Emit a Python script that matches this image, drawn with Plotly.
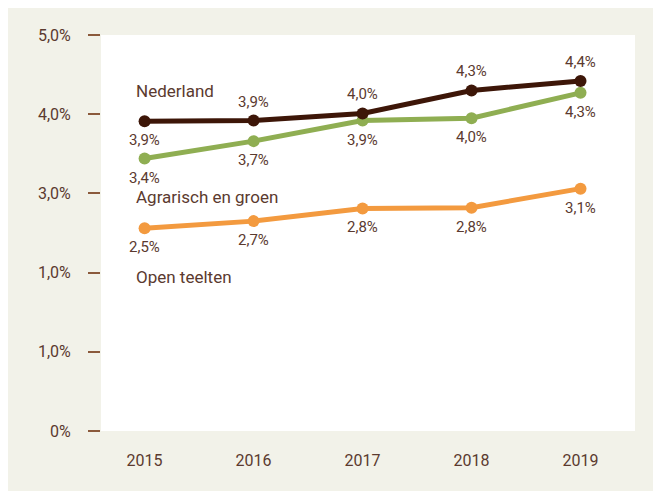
import plotly.graph_objects as go

years = [2015, 2016, 2017, 2018, 2019]
nederland = [3.91, 3.92, 4.01, 4.30, 4.42]
agrarisch = [3.44, 3.66, 3.92, 3.95, 4.27]
open_teelten = [2.56, 2.65, 2.81, 2.82, 3.06]

nederland_labels = ["3,9%", "3,9%", "4,0%", "4,3%", "4,4%"]
agrarisch_labels = ["3,4%", "3,7%", "3,9%", "4,0%", "4,3%"]
open_labels = ["2,5%", "2,7%", "2,8%", "2,8%", "3,1%"]

# +1 = label above the point, -1 = below
nederland_side = [-1, 1, 1, 1, 1]
agrarisch_side = [-1, -1, -1, -1, -1]
open_side = [-1, -1, -1, -1, -1]

ytick_vals = [0, 1, 2, 3, 4, 5]
ytick_text = ["0%", "1,0%", "1,0%", "3,0%", "4,0%", "5,0%"]

series_names = ["Nederland", "Agrarisch en groen", "Open teelten"]
series_name_y = [4.29, 2.95, 1.95]

FONT = "Roboto"
TXT = "#5b3a2f"
C_NL = "#3d1608"
C_AG = "#8fae52"
C_OT = "#f39a3f"

fig = go.Figure()

def add(vals, labels, sides, color):
    fig.add_trace(go.Scatter(
        x=years, y=vals, mode="lines+markers",
        line=dict(color=color, width=5),
        marker=dict(color=color, size=12),
        cliponaxis=False, showlegend=False, hoverinfo="skip",
    ))
    for x, y, t, s in zip(years, vals, labels, sides):
        fig.add_annotation(x=x, y=y, text=t, showarrow=False,
                           xanchor="center", yanchor="middle",
                           yshift=19 * s,
                           font=dict(family=FONT, size=15, color=TXT))

add(open_teelten, open_labels, open_side, C_OT)
add(agrarisch, agrarisch_labels, agrarisch_side, C_AG)
add(nederland, nederland_labels, nederland_side, C_NL)

for name, yv in zip(series_names, series_name_y):
    fig.add_annotation(x=2014.9, y=yv, text=name, showarrow=False,
                       xanchor="left", yanchor="middle",
                       font=dict(family=FONT, size=17, color=TXT))

fig.update_layout(
    width=661, height=491,
    margin=dict(l=93, r=34, t=27, b=68),
    paper_bgcolor="#f2f2e9", plot_bgcolor="white",
    font=dict(family=FONT, color=TXT),
    xaxis=dict(range=[2014.6, 2019.5], tickvals=years, ticktext=[str(y) for y in years],
               showgrid=False, zeroline=False, showline=False, ticks="",
               tickfont=dict(size=16, color=TXT), ticklabelstandoff=18, fixedrange=True),
    yaxis=dict(range=[0, 5], tickvals=ytick_vals, ticktext=ytick_text,
               showgrid=False, zeroline=False, showline=False,
               ticks="outside", ticklen=12, tickwidth=1.5, tickcolor="#8b5a3c",
               tickfont=dict(size=16, color=TXT), ticklabelstandoff=14, fixedrange=True),
)

fig.write_html("out.html")
